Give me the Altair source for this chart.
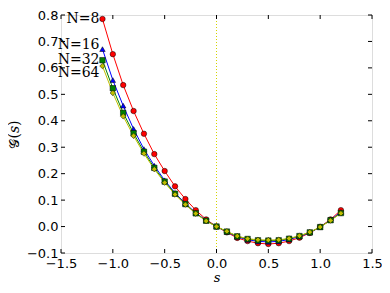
import altair as alt
import pandas as pd

s_vals = [-1.1, -1.0, -0.9, -0.8, -0.7, -0.6, -0.5, -0.4, -0.3, -0.2, -0.1, 0.0,
          0.1, 0.2, 0.3, 0.4, 0.5, 0.6, 0.7, 0.8, 0.9, 1.0, 1.1, 1.2]

g_n8 = [0.785, 0.652, 0.535, 0.437, 0.351, 0.274, 0.210, 0.152, 0.104, 0.062, 0.027, 0.0,
        -0.022, -0.043, -0.055, -0.063, -0.066, -0.063, -0.055, -0.042, -0.024, -0.001, 0.027, 0.062]
g_n16 = [0.671, 0.554, 0.457, 0.369, 0.293, 0.230, 0.175, 0.127, 0.087, 0.052, 0.023, 0.0,
         -0.020, -0.039, -0.050, -0.056, -0.058, -0.056, -0.049, -0.038, -0.023, -0.002, 0.025, 0.055]
g_n32 = [0.629, 0.523, 0.430, 0.353, 0.283, 0.222, 0.170, 0.124, 0.085, 0.050, 0.022, 0.0,
         -0.019, -0.037, -0.047, -0.052, -0.053, -0.052, -0.046, -0.036, -0.022, -0.002, 0.024, 0.051]
g_n64 = [0.607, 0.505, 0.417, 0.343, 0.276, 0.217, 0.166, 0.121, 0.083, 0.049, 0.021, 0.0,
         -0.018, -0.036, -0.046, -0.050, -0.051, -0.050, -0.045, -0.035, -0.021, -0.002, 0.023, 0.050]

series_names = ["N=8", "N=16", "N=32", "N=64"]
series_colors = ["#ff0000", "#0000ff", "#008000", "#bfbf00"]
series_shapes = ["circle", "triangle-up", "square", "diamond"]
series_sizes = [30, 30, 30, 14]

label_x = [-1.1, -1.1, -1.1, -1.1]
label_y = [0.785, 0.687, 0.630, 0.581]

x_ticks = [-1.5, -1.0, -0.5, 0.0, 0.5, 1.0, 1.5]
y_ticks = [-0.1, 0.0, 0.1, 0.2, 0.3, 0.4, 0.5, 0.6, 0.7, 0.8]
vline_x = [0.0]

W, H = 311, 238

rows = []
for name, ys in zip(series_names, [g_n8, g_n16, g_n32, g_n64]):
    for sx, gy in zip(s_vals, ys):
        rows.append({"s": sx, "g": gy, "series": name})
df = pd.DataFrame(rows)

xsc = alt.Scale(domain=[-1.5, 1.5], nice=False, zero=False)
ysc = alt.Scale(domain=[-0.1, 0.8], nice=False, zero=False)
color_scale = alt.Scale(domain=series_names, range=series_colors)
shape_scale = alt.Scale(domain=series_names, range=series_shapes)
size_scale = alt.Scale(domain=series_names, range=series_sizes)

xaxis = alt.Axis(values=x_ticks, format=".1f", ticks=False, domain=False, grid=False,
                 labelFont="DejaVu Sans", labelFontSize=13, labelColor="black",
                 labelOverlap=False, labelFlush=False,
                 labelPadding=4, title="s", titleFont="DejaVu Serif", titleFontStyle="italic",
                 titleFontWeight="normal", titleFontSize=13, titlePadding=1, titleColor="black")
yaxis = alt.Axis(values=y_ticks, format=".1f", ticks=False, domain=False, grid=False,
                 labelFont="DejaVu Sans", labelFontSize=13, labelColor="black",
                 labelOverlap=False, labelFlush=False,
                 labelPadding=3, title="𝒢(𝑠)", titleFont="DejaVu Serif",
                 titleFontWeight="normal", titleFontSize=14, titlePadding=5, titleColor="black")

vdf = pd.DataFrame({"x": vline_x})
vline = alt.Chart(vdf).mark_rule(color="#d4d400", strokeWidth=1, strokeDash=[1, 2]).encode(
    x=alt.X("x:Q", scale=xsc, axis=xaxis)
)

lines = alt.Chart(df).mark_line(strokeWidth=1).encode(
    x=alt.X("s:Q", scale=xsc, axis=xaxis),
    y=alt.Y("g:Q", scale=ysc, axis=yaxis),
    color=alt.Color("series:N", scale=color_scale, legend=None),
    detail="series:N",
)

points = alt.Chart(df).mark_point(filled=True, stroke="black", strokeWidth=0.5, opacity=1).encode(
    x=alt.X("s:Q", scale=xsc, axis=xaxis),
    y=alt.Y("g:Q", scale=ysc, axis=yaxis),
    fill=alt.Fill("series:N", scale=color_scale, legend=None),
    shape=alt.Shape("series:N", scale=shape_scale, legend=None),
    size=alt.Size("series:N", scale=size_scale, legend=None),
)

ldf = pd.DataFrame({"x": label_x, "y": label_y, "t": series_names})
labels = alt.Chart(ldf).mark_text(align="right", baseline="middle", dx=-3,
                                  font="DejaVu Serif", fontSize=14, color="black").encode(
    x=alt.X("x:Q", scale=xsc, axis=xaxis),
    y=alt.Y("y:Q", scale=ysc, axis=yaxis),
    text="t:N",
)

xtdf = pd.DataFrame({"v": x_ticks})
ytdf = pd.DataFrame({"v": y_ticks})
tick_len = 4
xt_bottom = alt.Chart(xtdf).mark_rule(color="black", strokeWidth=1).encode(
    x=alt.X("v:Q", scale=xsc, axis=xaxis), y=alt.value(H), y2=alt.value(H - tick_len))
xt_top = alt.Chart(xtdf).mark_rule(color="black", strokeWidth=1).encode(
    x=alt.X("v:Q", scale=xsc, axis=xaxis), y=alt.value(0), y2=alt.value(tick_len))
yt_left = alt.Chart(ytdf).mark_rule(color="black", strokeWidth=1).encode(
    y=alt.Y("v:Q", scale=ysc, axis=yaxis), x=alt.value(0), x2=alt.value(tick_len))
yt_right = alt.Chart(ytdf).mark_rule(color="black", strokeWidth=1).encode(
    y=alt.Y("v:Q", scale=ysc, axis=yaxis), x=alt.value(W), x2=alt.value(W - tick_len))

chart = alt.layer(vline, lines, points, labels, xt_bottom, xt_top, yt_left, yt_right).properties(
    width=W, height=H,
    autosize=alt.AutoSizeParams(type="none"),
    padding={"left": 53, "top": 7, "right": 10, "bottom": 40},
).configure_view(
    stroke="black", strokeWidth=1
).configure(background="white")

chart.save("out.html", embed_options={"renderer": "svg", "actions": False})
